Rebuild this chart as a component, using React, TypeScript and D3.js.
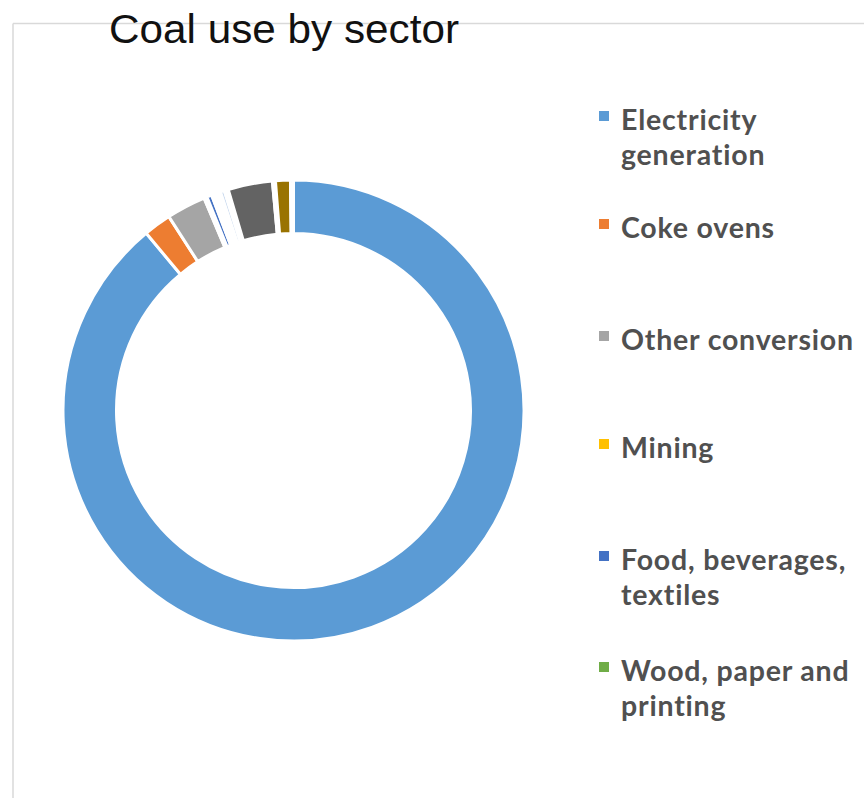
import React from "react";
import * as d3 from "d3";

const categories = [
  "Electricity generation",
  "Coke ovens",
  "Other conversion",
  "Mining",
  "Food, beverages, textiles",
  "Wood, paper and printing",
  "Iron and steel",
  "Chemicals",
  "Non-metallic minerals",
  "Other industry",
  "Domestic",
  "Agriculture",
  "Other",
];
const values = [88.97, 1.94, 2.75, 0.21, 0.35, 0.21, 0.44, 0.28, 0.28, 3.11, 0.21, 1.04, 0.21];
const colors = [
  "#5b9bd5", "#ed7d31", "#a5a5a5", "#ffc000", "#4472c4", "#70ad47",
  "#ffffff", "#c9d9ee", "#ffffff", "#636363", "#264478", "#997300", "#43682b",
];
const legendLines = [
  ["Electricity", "generation"],
  ["Coke ovens"],
  ["Other conversion"],
  ["Mining"],
  ["Food, beverages,", "textiles"],
  ["Wood, paper and", "printing"],
];
const legendBaselines = [130, 238, 350, 458, 570, 681];
const title = "Coal use by sector";

export default function App() {
  const W = 864, H = 798;
  const cx = 293.5, cy = 410.5, rOuter = 230.5, rInner = 177;
  const data = categories.map((c, i) => ({ c, v: values[i], color: colors[i] }));
  const pie = d3.pie<any>().sort(null).value((d: any) => d.v).startAngle(0).endAngle(2 * Math.PI);
  const arc = d3.arc<any>().innerRadius(rInner).outerRadius(rOuter);
  const arcs = pie(data);
  return (
    <svg width={W} height={H} style={{ position: "absolute", left: 0, top: 0, background: "#fff" }}>
      <rect x={0} y={0} width={W} height={H} fill="#fff" />
      <line x1={13} y1={23.5} x2={W} y2={23.5} stroke="#d9d9d9" strokeWidth={1.5} />
      <line x1={13} y1={23.5} x2={13} y2={H} stroke="#d9d9d9" strokeWidth={1.5} />
      <text x={109} y={42.5} fontFamily="'Liberation Sans', Arial, sans-serif" fontSize={41}
        fill="#111" textLength={350} lengthAdjust="spacingAndGlyphs">{title}</text>
      <g transform={`translate(${cx},${cy})`}>
        {arcs.map((a, i) => (
          <path key={i} d={arc(a) as string} fill={a.data.color} stroke="#fff" strokeWidth={3} />
        ))}
      </g>
      <g fontFamily="Lato, 'Open Sans', sans-serif" fontWeight="bold" fontSize={28.5} fill="#505050" letterSpacing={0.8}>
        {legendLines.map((lines, i) => (
          <g key={i}>
            <rect x={599} y={legendBaselines[i] - 19} width={10} height={10} fill={colors[i]} />
            {lines.map((t, j) => (
              <text key={j} x={621} y={legendBaselines[i] + j * 35}>{t}</text>
            ))}
          </g>
        ))}
      </g>
    </svg>
  );
}
